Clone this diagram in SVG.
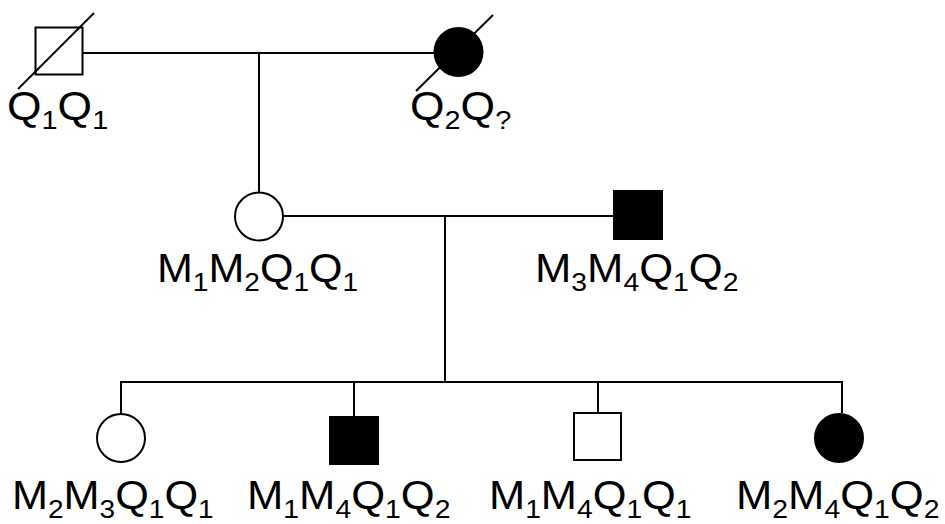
<svg xmlns="http://www.w3.org/2000/svg" width="945" height="524" viewBox="0 0 945 524">
  <style>
    .ln { stroke: #000; stroke-width: 2; fill: none; }
    .open { fill: #fff; stroke: #000; stroke-width: 2; }
    .aff { fill: #000; stroke: #000; stroke-width: 2; }
    .lbl { font-family: "Liberation Sans", Arial, sans-serif; font-size: 40px; fill: #000; }
    .sub { font-size: 26px; }
  </style>
  <rect width="945" height="524" fill="#fff"/>

  <!-- connectors: matings, descent and sibship lines -->
  <g id="connectors">
    <line class="ln" x1="83" y1="53" x2="434" y2="53"/>
    <line class="ln" x1="259" y1="53" x2="259" y2="192"/>
    <line class="ln" x1="283.5" y1="216" x2="613" y2="216"/>
    <line class="ln" x1="445" y1="216" x2="445" y2="382"/>
    <line class="ln" x1="121" y1="382" x2="842" y2="382"/>
    <line class="ln" x1="121" y1="381" x2="121" y2="413.5"/>
    <line class="ln" x1="354" y1="381" x2="354" y2="416"/>
    <line class="ln" x1="598" y1="381" x2="598" y2="414"/>
    <line class="ln" x1="842" y1="381" x2="842" y2="413"/>
  </g>

  <!-- generation I -->
  <g id="grandfather">
    <rect class="open" x="35.5" y="27.5" width="47" height="47"/>
    <line class="ln" x1="18" y1="89" x2="94" y2="13"/>
    <text class="lbl" transform="translate(7,120) scale(1.11,1)">Q<tspan class="sub" dy="9">1</tspan><tspan dy="-9">Q</tspan><tspan class="sub" dy="9">1</tspan></text>
  </g>
  <g id="grandmother">
    <circle class="aff" cx="458.5" cy="52" r="24"/>
    <line class="ln" x1="416" y1="91" x2="493" y2="15"/>
    <text class="lbl" transform="translate(410,120) scale(1.11,1)">Q<tspan class="sub" dy="9">2</tspan><tspan dy="-9">Q</tspan><tspan class="sub" dy="9">?</tspan></text>
  </g>

  <!-- generation II -->
  <g id="mother">
    <circle class="open" cx="259" cy="216.5" r="24"/>
    <text class="lbl" transform="translate(157,282) scale(1.077,1)">M<tspan class="sub" dy="9">1</tspan><tspan dy="-9">M</tspan><tspan class="sub" dy="9">2</tspan><tspan dy="-9">Q</tspan><tspan class="sub" dy="9">1</tspan><tspan dy="-9">Q</tspan><tspan class="sub" dy="9">1</tspan></text>
  </g>
  <g id="father">
    <rect class="aff" x="614" y="191" width="48" height="48"/>
    <text class="lbl" transform="translate(535,282) scale(1.09,1)">M<tspan class="sub" dy="9">3</tspan><tspan dy="-9">M</tspan><tspan class="sub" dy="9">4</tspan><tspan dy="-9">Q</tspan><tspan class="sub" dy="9">1</tspan><tspan dy="-9">Q</tspan><tspan class="sub" dy="9">2</tspan></text>
  </g>

  <!-- generation III -->
  <g id="child1">
    <circle class="open" cx="121" cy="438" r="24"/>
    <text class="lbl" transform="translate(12,509) scale(1.08,1)">M<tspan class="sub" dy="9">2</tspan><tspan dy="-9">M</tspan><tspan class="sub" dy="9">3</tspan><tspan dy="-9">Q</tspan><tspan class="sub" dy="9">1</tspan><tspan dy="-9">Q</tspan><tspan class="sub" dy="9">1</tspan></text>
  </g>
  <g id="child2">
    <rect class="aff" x="330" y="417" width="48" height="47"/>
    <text class="lbl" transform="translate(247,509) scale(1.09,1)">M<tspan class="sub" dy="9">1</tspan><tspan dy="-9">M</tspan><tspan class="sub" dy="9">4</tspan><tspan dy="-9">Q</tspan><tspan class="sub" dy="9">1</tspan><tspan dy="-9">Q</tspan><tspan class="sub" dy="9">2</tspan></text>
  </g>
  <g id="child3">
    <rect class="open" x="574" y="413" width="47" height="47"/>
    <text class="lbl" transform="translate(489,509) scale(1.085,1)">M<tspan class="sub" dy="9">1</tspan><tspan dy="-9">M</tspan><tspan class="sub" dy="9">4</tspan><tspan dy="-9">Q</tspan><tspan class="sub" dy="9">1</tspan><tspan dy="-9">Q</tspan><tspan class="sub" dy="9">1</tspan></text>
  </g>
  <g id="child4">
    <circle class="aff" cx="839" cy="438" r="24"/>
    <text class="lbl" transform="translate(736,509) scale(1.09,1)">M<tspan class="sub" dy="9">2</tspan><tspan dy="-9">M</tspan><tspan class="sub" dy="9">4</tspan><tspan dy="-9">Q</tspan><tspan class="sub" dy="9">1</tspan><tspan dy="-9">Q</tspan><tspan class="sub" dy="9">2</tspan></text>
  </g>
</svg>
